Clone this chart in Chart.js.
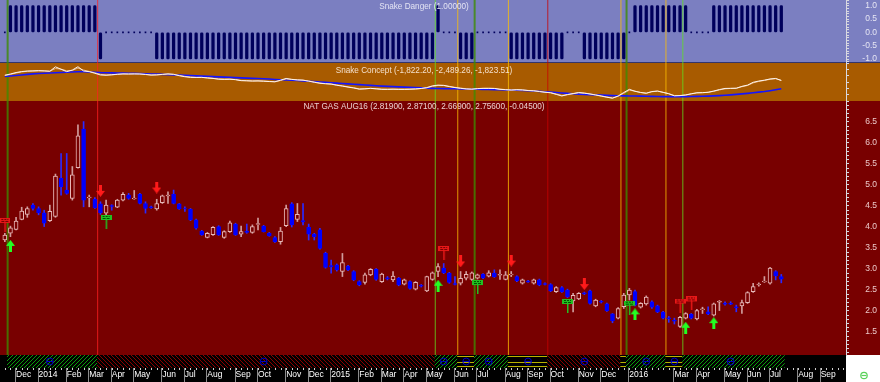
<!DOCTYPE html>
<html><head><meta charset="utf-8">
<script src="https://cdn.jsdelivr.net/npm/chart.js@4.4.1/dist/chart.umd.min.js"></script>
<style>html,body{margin:0;padding:0;background:#000}canvas{display:block}</style>
</head><body>
<canvas id="c" width="880" height="382"></canvas>
<script>
// weekly bars, dated on Fridays
const START = Date.UTC(2013, 10, 22);
const N_WEEKS = 150;
const WEEKS = Array.from({length: N_WEEKS}, (_, i) => new Date(START + i * 7 * 864e5).toISOString().slice(0, 10));

const MONTH_TICKS = [[2,'Dec'],[6,'2014'],[11,'Feb'],[15,'Mar'],[19,'Apr'],[23,'May'],[28,'Jun'],[32,'Jul'],[36,'Aug'],[41,'Sep'],[45,'Oct'],[50,'Nov'],[54,'Dec'],[58,'2015'],[63,'Feb'],[67,'Mar'],[71,'Apr'],[75,'May'],[80,'Jun'],[84,'Jul'],[89,'Aug'],[93,'Sep'],[97,'Oct'],[102,'Nov'],[106,'Dec'],[111,'2016'],[119,'Mar'],[123,'Apr'],[128,'May'],[132,'Jun'],[136,'Jul'],[141,'Aug'],[145,'Sep']];

const OPEN = [3.69,3.85,3.94,4.18,4.30,4.52,4.44,4.34,4.15,4.25,
  5.16,4.88,4.68,5.41,6.33,4.69,4.66,4.55,4.33,4.51,
  4.47,4.64,4.76,4.67,4.78,4.56,4.48,4.43,4.58,4.74,
  4.78,4.55,4.45,4.42,4.17,3.90,3.75,3.82,4.01,3.75,
  3.89,4.07,3.83,3.90,3.87,4.06,4.02,3.85,3.75,3.65,
  4.03,4.55,4.18,4.15,3.99,3.83,3.93,3.37,3.08,3.10,
  2.94,3.07,2.94,2.70,2.68,2.86,2.99,2.70,2.79,2.74,
  2.78,2.64,2.70,2.52,2.61,2.48,2.75,2.94,3.02,2.90,
  2.65,2.66,2.78,2.75,2.78,2.87,2.83,2.90,2.85,2.75,
  2.86,2.82,2.66,2.71,2.66,2.74,2.65,2.63,2.46,2.56,
  2.50,2.24,2.29,2.43,2.48,2.12,2.23,2.17,1.93,1.83,
  2.10,2.38,2.46,2.09,2.17,2.22,2.12,1.97,1.84,1.78,
  1.63,1.83,1.92,1.81,2.03,1.98,1.90,2.21,2.18,2.18,
  2.10,2.12,2.20,2.46,2.62,2.69,2.66,2.94,2.82];
const HIGH = [3.85,4.02,4.23,4.47,4.48,4.56,4.48,4.40,4.52,5.26,
  5.75,5.75,5.44,6.43,6.51,4.76,4.70,4.60,4.64,4.53,
  4.66,4.82,4.80,4.87,4.80,4.60,4.50,4.66,4.76,4.84,
  4.88,4.56,4.48,4.44,4.19,3.92,3.87,4.01,4.03,3.91,
  4.14,4.09,4.02,4.07,4.05,4.21,4.04,3.87,3.77,3.99,
  4.52,4.58,4.56,4.56,4.07,3.85,3.97,3.40,3.21,3.12,
  3.37,3.09,2.96,2.72,2.90,3.01,3.01,2.90,2.82,2.94,
  2.80,2.76,2.72,2.70,2.63,2.83,2.93,3.13,3.13,2.92,
  2.82,2.94,2.94,2.93,2.88,2.89,2.96,2.98,2.98,2.94,
  2.94,2.84,2.76,2.73,2.76,2.76,2.67,2.65,2.58,2.58,
  2.52,2.42,2.44,2.45,2.50,2.28,2.25,2.19,1.94,2.08,
  2.42,2.54,2.50,2.20,2.36,2.24,2.14,1.99,1.87,1.83,
  1.87,1.96,1.94,2.04,2.09,2.10,2.19,2.25,2.22,2.22,
  2.14,2.26,2.46,2.66,2.67,2.82,3.04,2.96,2.87];
const LOW = [3.65,3.77,3.93,4.17,4.23,4.40,4.29,4.01,4.13,4.23,
  4.76,4.78,4.64,5.40,4.48,4.48,4.44,4.30,4.21,4.40,
  4.46,4.62,4.66,4.66,4.55,4.33,4.44,4.40,4.56,4.56,
  4.55,4.42,4.37,4.15,3.95,3.80,3.74,3.80,3.80,3.73,
  3.87,3.80,3.77,3.85,3.85,3.93,3.88,3.78,3.63,3.59,
  4.01,4.00,4.13,4.05,3.69,3.69,3.47,3.02,2.90,2.95,
  2.82,2.96,2.72,2.60,2.64,2.84,2.73,2.68,2.74,2.70,
  2.60,2.62,2.52,2.50,2.57,2.46,2.73,2.82,2.89,2.66,
  2.62,2.62,2.74,2.73,2.76,2.77,2.81,2.80,2.75,2.74,
  2.82,2.70,2.64,2.68,2.64,2.60,2.62,2.46,2.44,2.44,
  2.32,1.98,2.27,2.39,2.16,2.10,2.19,1.99,1.72,1.81,
  2.06,2.26,2.12,2.07,2.14,2.06,1.96,1.81,1.73,1.69,
  1.61,1.81,1.81,1.79,1.94,1.91,1.88,2.01,2.14,2.15,
  1.98,1.94,2.18,2.44,2.59,2.68,2.64,2.74,2.67];
const CLOSE = [3.81,3.98,4.14,4.38,4.44,4.44,4.34,4.09,4.37,5.21,
  4.96,4.80,5.24,6.17,4.64,4.71,4.46,4.34,4.52,4.49,
  4.64,4.78,4.68,4.69,4.56,4.44,4.46,4.56,4.74,4.76,
  4.56,4.43,4.44,4.17,3.97,3.81,3.85,3.99,3.81,3.89,
  4.10,3.81,3.89,3.87,4.01,4.08,3.89,3.79,3.65,3.90,
  4.44,4.05,4.30,4.12,3.83,3.77,3.49,3.04,3.05,2.98,
  3.15,2.98,2.74,2.62,2.86,2.99,2.75,2.88,2.77,2.83,
  2.62,2.74,2.54,2.68,2.59,2.82,2.91,3.06,2.91,2.68,
  2.63,2.78,2.87,2.91,2.86,2.79,2.91,2.82,2.87,2.86,
  2.88,2.72,2.74,2.69,2.74,2.62,2.63,2.48,2.56,2.46,
  2.34,2.37,2.42,2.41,2.18,2.26,2.21,2.01,1.77,2.06,
  2.38,2.50,2.14,2.18,2.33,2.09,1.98,1.83,1.82,1.76,
  1.85,1.94,1.83,2.01,2.05,1.93,2.17,2.23,2.16,2.16,
  2.08,2.20,2.44,2.58,2.64,2.71,3.02,2.84,2.76];

// Snake Danger: +1 / 0 / -1
const DANGER = [0,1,1,1,1,1,1,1,1,1, 1,1,1,1,1,1,1,-1,0,0, 0,0,0,0,0,0,0,-1,-1,-1,
  -1,-1,-1,-1,-1,-1,-1,-1,-1,-1, -1,-1,-1,-1,-1,-1,-1,-1,-1,-1, -1,-1,-1,-1,-1,-1,-1,-1,-1,-1,
  -1,-1,-1,-1,-1,-1,-1,-1,-1,-1, -1,-1,-1,-1,-1,-1,-1,1,0,0, 0,-1,-1,-1,0,0,0,0,0,0,
  -1,-1,-1,-1,-1,-1,-1,-1,-1,-1, 0,0,0,-1,-1,-1,-1,-1,-1,-1, -1,0,1,1,1,1,1,1,1,1,
  1,1,0,0,0,0,1,1,1,1, 1,1,1,1,1,1,1,1,1];

// Snake Concept lines
const CONCEPT_W = [-1400,-1300,-1180,-1100,-1060,-1050,-1030,-1050,-1080,-720,
  -920,-1110,-980,-710,-1060,-1110,-1240,-1380,-1400,-1360,
  -1320,-1290,-1300,-1290,-1300,-1340,-1390,-1370,-1330,-1290,
  -1330,-1440,-1520,-1570,-1580,-1570,-1620,-1660,-1720,-1730,
  -1720,-1760,-1840,-1850,-1870,-1860,-1880,-1910,-1930,-1800,
  -1660,-1740,-1780,-1800,-1880,-1970,-2050,-2090,-2120,-2210,
  -2280,-2360,-2430,-2530,-2500,-2460,-2500,-2540,-2540,-2530,
  -2540,-2540,-2530,-2510,-2470,-2400,-2260,-2200,-2220,-2320,
  -2400,-2460,-2510,-2530,-2480,-2460,-2460,-2470,-2540,-2570,
  -2600,-2570,-2590,-2640,-2660,-2720,-2780,-2820,-2950,-3080,
  -2960,-2880,-2800,-2850,-2920,-3000,-3090,-3180,-3260,-3080,
  -2800,-2540,-2700,-2800,-2860,-2720,-2680,-2790,-2900,-3070,
  -3050,-3000,-2900,-2820,-2810,-2780,-2680,-2560,-2470,-2460,
  -2450,-2300,-2200,-1970,-1870,-1800,-1700,-1660,-1822];
const CONCEPT_T = [-1420,-1330,-1220,-1130,-1080,-1055,-1040,-1045,-1070,-860,
  -900,-1040,-1010,-820,-980,-1090,-1200,-1330,-1380,-1370,
  -1330,-1300,-1300,-1295,-1300,-1330,-1370,-1370,-1340,-1305,
  -1325,-1410,-1490,-1550,-1575,-1575,-1610,-1650,-1705,-1725,
  -1720,-1750,-1820,-1845,-1865,-1860,-1875,-1900,-1925,-1830,
  -1700,-1730,-1770,-1795,-1865,-1950,-2030,-2075,-2110,-2190,
  -2260,-2340,-2410,-2500,-2500,-2470,-2495,-2530,-2540,-2530,
  -2540,-2540,-2530,-2515,-2480,-2420,-2300,-2230,-2230,-2300,
  -2380,-2440,-2495,-2525,-2490,-2465,-2460,-2470,-2525,-2560,
  -2595,-2575,-2590,-2630,-2655,-2710,-2770,-2810,-2920,-3040,
  -2980,-2900,-2820,-2845,-2910,-2990,-3070,-3160,-3240,-3110,
  -2860,-2610,-2690,-2790,-2850,-2740,-2690,-2780,-2890,-3040,
  -3040,-3000,-2910,-2830,-2815,-2785,-2700,-2590,-2500,-2470,
  -2460,-2330,-2230,-2020,-1900,-1820,-1730,-1680,-1823];
const CONCEPT_B = [-1500,-1460,-1420,-1380,-1330,-1290,-1260,-1240,-1220,-1200,
  -1180,-1160,-1140,-1120,-1110,-1130,-1160,-1190,-1200,-1210,
  -1220,-1230,-1240,-1250,-1270,-1280,-1300,-1310,-1330,-1350,
  -1370,-1390,-1410,-1430,-1450,-1470,-1490,-1510,-1530,-1550,
  -1570,-1590,-1610,-1630,-1650,-1670,-1690,-1710,-1740,-1760,
  -1780,-1800,-1830,-1860,-1890,-1920,-1950,-1980,-2010,-2040,
  -2070,-2100,-2130,-2160,-2190,-2220,-2250,-2280,-2300,-2320,
  -2340,-2360,-2380,-2400,-2420,-2440,-2460,-2470,-2480,-2490,
  -2500,-2510,-2520,-2530,-2540,-2550,-2560,-2570,-2580,-2590,
  -2600,-2610,-2630,-2650,-2680,-2710,-2740,-2770,-2800,-2840,
  -2870,-2900,-2930,-2950,-2970,-2990,-3010,-3030,-3050,-3060,
  -3070,-3080,-3080,-3090,-3100,-3110,-3120,-3130,-3130,-3140,
  -3140,-3130,-3120,-3110,-3100,-3090,-3070,-3050,-3020,-2990,
  -2950,-2910,-2870,-2820,-2770,-2720,-2650,-2570,-2489];

// signals: [bar index, price level]
const SELL_ARROWS = [[17,4.86],[27,4.94],[81,3.18],[90,3.20],[103,2.64]];
const BUY_ARROWS = [[1,3.55],[77,2.60],[112,1.92],[121,1.60],[126,1.71]];
const RED_FLAGS = [[0,4.05],[78,3.38],[120,2.13],[122,2.18]];
const GREEN_FLAGS = [[18,4.12],[84,2.57],[100,2.12],[111,2.08]];

// regime strip: [from bar, to bar, kind]
const STRIP = [[1,17,'G'],[17,77,'R'],[77,81,'G'],[81,84,'Y'],[84,90,'G'],[90,97,'Y'],[97,110,'R'],[110,111,'Y'],[111,118,'G'],[118,121,'Y'],[121,139,'G']];
const STRIP_MARKS = [8,46,78,82,86,93,103,114,119,129];
const VLINES = [[1,'olive'],[17,'red'],[77,'green'],[81,'yellow'],[84,'olive'],[90,'yellow'],[97,'dred'],[110,'yellow'],[111,'olive'],[118,'yellow'],[121,'green']];
const VLINE_STYLE = {olive:['#3c8c00',2], red:['#ff2020',1], green:['#60e020',1], yellow:['#ffc000',1], dred:['#c80000',1]};

const REGIME = new Array(N_WEEKS).fill(null);
STRIP.forEach(([a, b, k]) => { for (let i = a; i < b; i++) REGIME[i] = k; });
const sparse = list => { const a = new Array(N_WEEKS).fill(null); list.forEach(([i, v]) => a[i] = v); return a; };
const TICK_MAP = {}; MONTH_TICKS.forEach(([i, t]) => TICK_MAP[i] = t);

function makeImg(w, h, draw) { const c = document.createElement('canvas'); c.width = w; c.height = h; draw(c.getContext('2d')); return c; }
const IMG_SELL = makeImg(9, 12, g => { g.fillStyle = '#ff1a1a'; g.fillRect(3, 0, 3, 7); g.beginPath(); g.moveTo(0, 6); g.lineTo(9, 6); g.lineTo(4.5, 12); g.closePath(); g.fill(); });
const IMG_BUY = makeImg(9, 12, g => { g.fillStyle = '#22ff22'; g.fillRect(3, 5, 3, 7); g.beginPath(); g.moveTo(0, 6); g.lineTo(9, 6); g.lineTo(4.5, 0); g.closePath(); g.fill(); });
const flagImg = (col, dark) => makeImg(11, 14, g => {
  g.fillStyle = col; g.fillRect(0, 0, 11, 5); g.fillRect(5, 5, 1.5, 9);
  g.fillStyle = dark; g.fillRect(2, 1, 2, 1); g.fillRect(5, 1, 2, 1); g.fillRect(8, 1, 1, 1); g.fillRect(2, 3, 3, 1); g.fillRect(6, 3, 3, 1);
});
const IMG_RFLAG = flagImg('#e81818', '#700000');
const IMG_GFLAG = flagImg('#22c022', '#005000');

const patCache = {};
function stripPattern(chart, kind) {
  if (!kind) return 'rgba(0,0,0,0)';
  const s = chart.scales.yStrip;
  const key = kind + Math.round(s.top);
  if (patCache[key]) return patCache[key];
  const pc = document.createElement('canvas');
  if (kind === 'Y') {
    pc.width = 4; pc.height = chart.height;
    const g = pc.getContext('2d');
    g.fillStyle = '#000'; g.fillRect(0, 0, 4, pc.height);
    g.fillStyle = '#b8b000';
    [s.top + 1, (s.top + s.bottom) / 2, s.bottom - 2].forEach(y => g.fillRect(0, Math.round(y), 4, 1));
  } else {
    pc.width = 4; pc.height = 4;
    const g = pc.getContext('2d');
    g.fillStyle = '#000'; g.fillRect(0, 0, 4, 4);
    g.fillStyle = kind === 'G' ? '#0a9a0a' : '#8a0000';
    for (let k = 0; k < 4; k++) g.fillRect(kind === 'G' ? 3 - k : k, k, 1, 1);
  }
  return patCache[key] = chart.ctx.createPattern(pc, 'repeat');
}

const isUp = c => c.dataIndex != null && CLOSE[c.dataIndex] >= OPEN[c.dataIndex];

Chart.defaults.font.family = "'Liberation Sans', Arial, sans-serif";
const noPad = s => { s.paddingTop = 0; s.paddingBottom = 0; s.paddingLeft = 0; s.paddingRight = 0; };

// mirrored labels on the right axis are drawn right-aligned at left + padding (= x 877)
function yAxis(weight, stackWeight, min, max, step, color, cb) {
  return {
    position: 'right', stack: 'panels', stackWeight, weight, min, max,
    afterFit: s => { s.width = 34; noPad(s); },
    border: {display: true, color: '#d8d8e0'},
    grid: {drawOnChartArea: false, drawTicks: true, tickLength: 3, tickColor: '#d8d8e0'},
    ticks: {stepSize: step, autoSkip: false, includeBounds: false, mirror: true, padding: 31,
      color, font: {size: 8.5}, callback: cb}
  };
}

const panels = {
  id: 'panels',
  beforeDraw(chart) {
    const {ctx, width, height} = chart;
    const {yTop, yMid, yMain, yStrip} = chart.scales;
    ctx.save();
    ctx.fillStyle = '#000'; ctx.fillRect(0, 0, width, height);
    ctx.fillStyle = '#7b7fc1'; ctx.fillRect(0, yTop.top, width, yTop.bottom - yTop.top);
    ctx.fillStyle = '#a85b00'; ctx.fillRect(0, yMid.top, width, yMid.bottom - yMid.top);
    ctx.fillStyle = '#780000'; ctx.fillRect(0, yMain.top, width, yMain.bottom - yMain.top);
    ctx.fillStyle = '#fff'; ctx.fillRect(yStrip.left, yStrip.top, width - yStrip.left, height - yStrip.top);
    ctx.fillStyle = '#34346a'; ctx.fillRect(0, Math.round(yTop.bottom) - 1, width, 1);
    ctx.restore();
  },
  beforeDatasetsDraw(chart) {
    const {ctx} = chart;
    const {x, yTop, yMain} = chart.scales;
    ctx.save();
    ctx.globalAlpha = 0.78;
    VLINES.forEach(([k, kind]) => {
      const [col, w] = VLINE_STYLE[kind];
      const px = x.getPixelForValue(k - 0.5);
      ctx.fillStyle = col; ctx.fillRect(px - w / 2, yTop.top, w, yMain.bottom - yTop.top);
    });
    ctx.restore();
  },
  afterDatasetsDraw(chart) {
    const {ctx} = chart;
    const {x, yTop, yMid, yMain, yStrip} = chart.scales;
    const cx = (x.left + x.right) / 2;
    ctx.save();
    ctx.font = "8.2px 'Liberation Sans', Arial, sans-serif";
    ctx.textAlign = 'center'; ctx.textBaseline = 'middle';
    ctx.fillStyle = '#e4e4f4'; ctx.fillText('Snake Danger (1.00000)', cx, yTop.top + 7);
    ctx.fillStyle = '#f4e0cc'; ctx.fillText('Snake Concept (-1,822.20, -2,489.26, -1,823.51)', cx, yMid.top + 8);
    ctx.fillStyle = '#ecd0d0'; ctx.fillText('NAT GAS AUG16 (2.81900, 2.87100, 2.66900, 2.75600, -0.04500)', cx, yMain.top + 6);
    // x axis ticks
    const top = yStrip.bottom;
    ctx.fillStyle = '#d0d0d0';
    for (let i = 0; i < N_WEEKS; i++) ctx.fillRect(Math.round(x.getPixelForValue(i)), top, 1, 2);
    ctx.fillStyle = '#8c8c8c';
    MONTH_TICKS.forEach(([i]) => ctx.fillRect(Math.round(x.getPixelForValue(i)) - 1, top, 1, chart.height - top));
    // status icon
    ctx.strokeStyle = '#5ad25a'; ctx.lineWidth = 1.2;
    ctx.beginPath(); ctx.arc(864, top + 7.5, 3.2, 0, Math.PI * 2); ctx.stroke();
    ctx.beginPath(); ctx.moveTo(861.5, top + 7.5); ctx.lineTo(866.5, top + 7.5); ctx.stroke();
    ctx.restore();
  }
};

new Chart(document.getElementById('c'), {
  type: 'bar',
  data: {
    labels: WEEKS,
    datasets: [
      {type: 'bar', yAxisID: 'yMain', data: HIGH.map((h, i) => [LOW[i], h]), grouped: false, barThickness: 1, order: 9,
        backgroundColor: c => isUp(c) ? '#d09c9c' : '#2a2aff'},
      {type: 'bar', yAxisID: 'yMain', data: OPEN.map((o, i) => [o, CLOSE[i]]), grouped: false, barThickness: 4, order: 8,
        borderWidth: 1, borderSkipped: false,
        backgroundColor: c => isUp(c) ? '#780000' : '#0000ff', borderColor: c => isUp(c) ? '#e8b8b8' : '#0000ff'},
      {type: 'line', yAxisID: 'yMain', data: sparse(SELL_ARROWS), showLine: false, pointStyle: IMG_SELL, pointRadius: 5, order: 1},
      {type: 'line', yAxisID: 'yMain', data: sparse(BUY_ARROWS), showLine: false, pointStyle: IMG_BUY, pointRadius: 5, order: 1},
      {type: 'line', yAxisID: 'yMain', data: sparse(RED_FLAGS), showLine: false, pointStyle: IMG_RFLAG, pointRadius: 5, order: 1},
      {type: 'line', yAxisID: 'yMain', data: sparse(GREEN_FLAGS), showLine: false, pointStyle: IMG_GFLAG, pointRadius: 5, order: 1},

      {type: 'bar', yAxisID: 'yTop', data: DANGER.map(v => v === 0 ? null : v), grouped: false, barThickness: 2.6,
        borderRadius: 1.3, borderSkipped: false, backgroundColor: '#00005c', order: 5},
      {type: 'line', yAxisID: 'yTop', data: DANGER.map(v => v === 0 ? 0 : null), showLine: false, pointStyle: 'rect',
        pointRadius: 1.2, pointBorderWidth: 0, pointBackgroundColor: '#00005c', order: 5},

      {type: 'line', yAxisID: 'yMid', data: CONCEPT_B, borderColor: '#1414ff', borderWidth: 1.6, pointRadius: 0, order: 4},
      {type: 'line', yAxisID: 'yMid', data: CONCEPT_T, borderColor: '#f0b884', borderWidth: 1, pointRadius: 0, order: 3},
      {type: 'line', yAxisID: 'yMid', data: CONCEPT_W, borderColor: '#fbf4ee', borderWidth: 1, pointRadius: 0, order: 2},

      {type: 'bar', yAxisID: 'yStrip', data: REGIME.map(r => r ? [0, 1] : null), grouped: false, barThickness: 6.2,
        borderWidth: 0, backgroundColor: c => stripPattern(c.chart, REGIME[c.dataIndex]), order: 7},
      {type: 'line', yAxisID: 'yStrip', data: sparse(STRIP_MARKS.map(i => [i, 0.5])), showLine: false, pointStyle: 'circle',
        pointRadius: 3.4, pointBorderWidth: 1, pointBorderColor: '#0000c8', pointBackgroundColor: 'rgba(0,0,0,0)', order: 6},
      {type: 'line', yAxisID: 'yStrip', data: sparse(STRIP_MARKS.map(i => [i, 0.5])), showLine: false, pointStyle: 'line',
        pointRadius: 3, pointBorderWidth: 1, pointBorderColor: '#0000c8', order: 6}
    ]
  },
  options: {
    responsive: false, animation: false, events: [],
    layout: {autoPadding: false, padding: {left: 2, right: 0, top: 0, bottom: 0}},
    plugins: {legend: {display: false}, tooltip: {enabled: false}},
    scales: {
      x: {type: 'category', offset: true, afterFit: s => { s.height = 14; noPad(s); },
        grid: {display: false, drawTicks: false}, border: {display: false},
        ticks: {autoSkip: false, maxRotation: 0, minRotation: 0, align: 'start', padding: 2, color: '#ffffff',
          font: {size: 8.5}, callback: (v, i) => TICK_MAP[i] || ''}},
      yTop: yAxis(1, 63, -1.15, 1.214, 0.1, '#e6e6f4',
        v => (Math.abs(v * 2 - Math.round(v * 2)) < 1e-6 && Math.abs(v) < 1.001) ? v.toFixed(1) : ''),
      yMid: yAxis(2, 38, -3486, -409, 500, '#f6e2cc',
        v => (v % 1000 === 0) ? String(v) : ''),
      yMain: yAxis(3, 254, 0.952, 7.0, 0.1, '#ecc8c8',
        v => (Math.round(v * 10) % 5 === 0 && v > 1.45 && v < 6.55) ? v.toFixed(1) : ''),
      yStrip: {position: 'right', stack: 'panels', stackWeight: 13, weight: 4, min: 0, max: 1,
        afterFit: s => { s.width = 34; noPad(s); }, grid: {display: false}, border: {display: false}, ticks: {display: false}}
    }
  },
  plugins: [panels]
});
</script>
</body></html>
